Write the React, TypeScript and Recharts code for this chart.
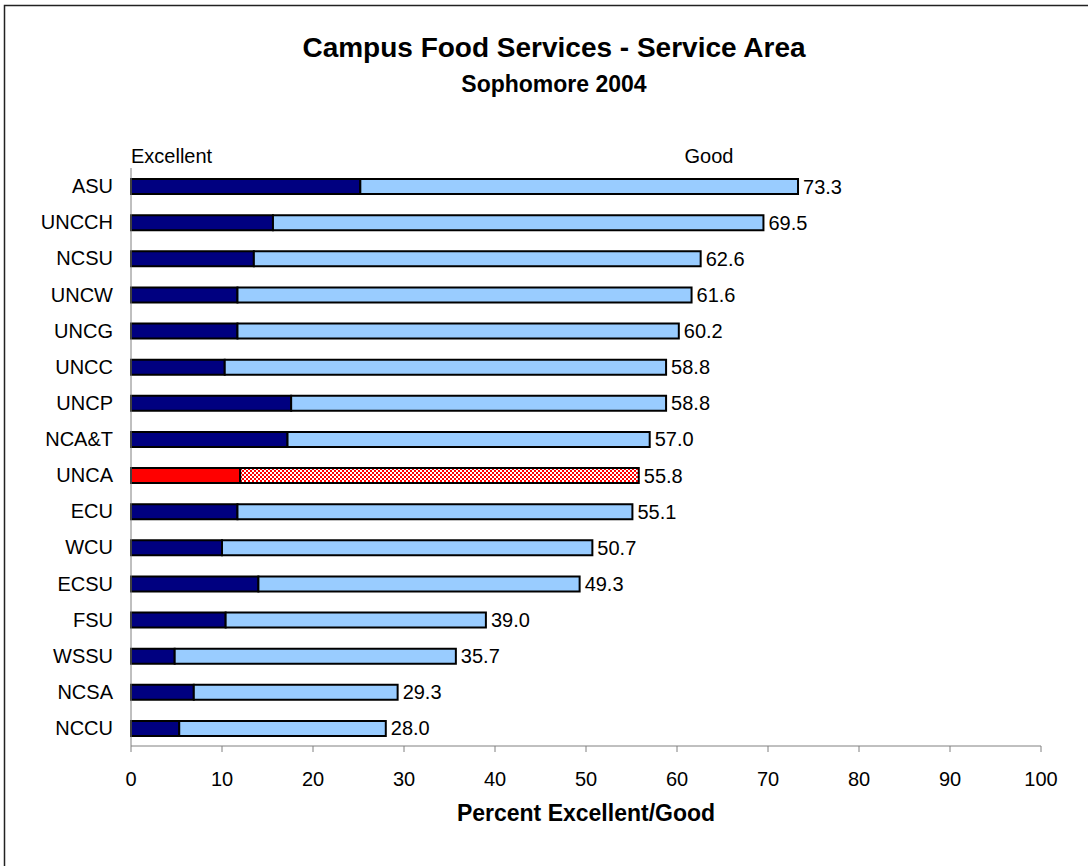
import { BarChart, Bar, XAxis, YAxis, Cell, LabelList, Customized } from "recharts";

const campuses = [
  "ASU", "UNCCH", "NCSU", "UNCW", "UNCG", "UNCC", "UNCP", "NCA&T",
  "UNCA", "ECU", "WCU", "ECSU", "FSU", "WSSU", "NCSA", "NCCU",
];
// percent "Excellent" (dark segment)
const excellent = [25.2, 15.6, 13.5, 11.7, 11.7, 10.3, 17.6, 17.2, 12.0, 11.7, 10.0, 14.0, 10.4, 4.8, 6.9, 5.3];
// percent Excellent + Good (printed at bar end)
const totals = [73.3, 69.5, 62.6, 61.6, 60.2, 58.8, 58.8, 57.0, 55.8, 55.1, 50.7, 49.3, 39.0, 35.7, 29.3, 28.0];
const xTicks = [0, 10, 20, 30, 40, 50, 60, 70, 80, 90, 100];
const highlight = "UNCA";

const data = campuses.map((name, i) => ({
  name,
  excellent: excellent[i],
  good: +(totals[i] - excellent[i]).toFixed(1),
  total: totals[i],
}));

const FONT = '"Liberation Sans", Arial, sans-serif';

function Decorations() {
  return (
    <g fontFamily={FONT}>
      <rect x={4.5} y={5.5} width={1200} height={1000} fill="none" stroke="#222" strokeWidth={1.5} />
      <text x={554} y={57} textAnchor="middle" fontSize={28} fontWeight="bold" fill="#000">
        Campus Food Services - Service Area
      </text>
      <text x={554} y={92} textAnchor="middle" fontSize={23} fontWeight="bold" fill="#000">
        Sophomore 2004
      </text>
      <text x={131} y={163} fontSize={20} fill="#000">Excellent</text>
      <text x={709} y={163} textAnchor="middle" fontSize={20} fill="#000">Good</text>
      <text x={586} y={821} textAnchor="middle" fontSize={23} fontWeight="bold" fill="#000">
        Percent Excellent/Good
      </text>
    </g>
  );
}

export default function App() {
  return (
    <div style={{ width: 1088, height: 866, fontFamily: FONT, background: "#fff" }}>
      <style>{"body{margin:0}"}</style>
      <BarChart
        width={1088}
        height={866}
        data={data}
        layout="vertical"
        barSize={15}
        margin={{ top: 168, right: 47, bottom: 60, left: 0 }}
      >
        <defs>
          <pattern id="checker" width={4} height={4} patternUnits="userSpaceOnUse">
            <rect width={4} height={4} fill="#fff" />
            <rect width={2} height={2} fill="#ff0000" />
            <rect x={2} y={2} width={2} height={2} fill="#ff0000" />
          </pattern>
        </defs>
        <XAxis
          type="number"
          domain={[0, 100]}
          ticks={xTicks}
          height={60}
          tickSize={6}
          tickMargin={20}
          stroke="#808080"
          tick={{ fontSize: 20, fill: "#000" }}
        />
        <YAxis
          type="category"
          dataKey="name"
          width={131}
          tickLine={false}
          tickSize={0}
          tickMargin={18}
          stroke="#808080"
          interval={0}
          tick={{ fontSize: 20, fill: "#000" }}
        />
        <Bar dataKey="excellent" stackId="a" stroke="#000" strokeWidth={2} isAnimationActive={false}>
          {data.map((d) => (
            <Cell key={d.name} fill={d.name === highlight ? "#ff0000" : "#000080"} />
          ))}
        </Bar>
        <Bar dataKey="good" stackId="a" stroke="#000" strokeWidth={2} isAnimationActive={false}>
          {data.map((d) => (
            <Cell key={d.name} fill={d.name === highlight ? "url(#checker)" : "#99ccff"} />
          ))}
          <LabelList
            dataKey="total"
            position="right"
            offset={5}
            fontSize={20}
            fill="#000"
            formatter={(v: number) => v.toFixed(1)}
          />
        </Bar>
        <Customized component={Decorations} />
      </BarChart>
    </div>
  );
}
